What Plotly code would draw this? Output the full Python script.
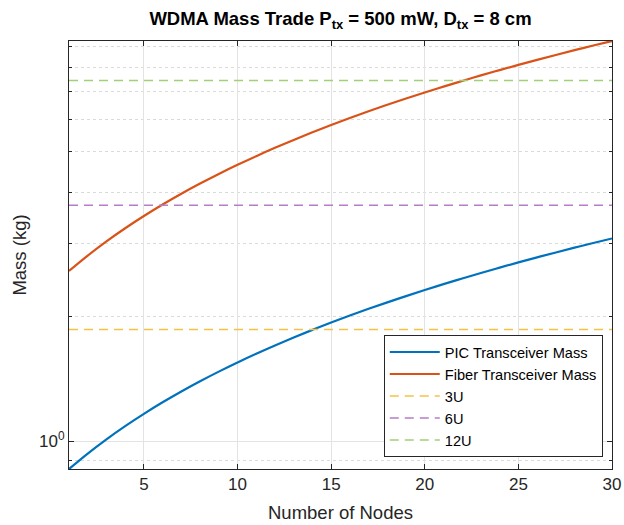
import plotly.graph_objects as go

# ---- data ----
nodes = list(range(1, 31))
pic_mass = [0.858, 0.935, 1.012, 1.089, 1.166, 1.243, 1.320, 1.397, 1.474, 1.551,
            1.628, 1.705, 1.782, 1.859, 1.936, 2.013, 2.090, 2.166, 2.243, 2.320,
            2.397, 2.474, 2.551, 2.628, 2.705, 2.782, 2.859, 2.936, 3.013, 3.090]
fiber_mass = [2.580, 2.810, 3.041, 3.271, 3.501, 3.732, 3.962, 4.192, 4.423, 4.653,
              4.883, 5.114, 5.344, 5.574, 5.805, 6.035, 6.265, 6.496, 6.726, 6.957,
              7.187, 7.417, 7.648, 7.878, 8.108, 8.339, 8.569, 8.799, 9.030, 9.260]
limit_names = ["3U", "6U", "12U"]
limit_values = [1.862, 3.715, 7.43]
x_ticks = [5, 10, 15, 20, 25, 30]
y_major = [1]
y_major_text = ["10<sup>0</sup>"]
y_minor = [0.9, 2, 3, 4, 5, 6, 7, 8, 9]

FONT = "Liberation Sans, Arial, Helvetica, sans-serif"
AX = "#262626"

fig = go.Figure()
fig.add_trace(go.Scatter(x=nodes, y=pic_mass, mode="lines", name="PIC Transceiver Mass",
                         line=dict(color="#0072BD", width=2.2, shape="spline", smoothing=1)))
fig.add_trace(go.Scatter(x=nodes, y=fiber_mass, mode="lines", name="Fiber Transceiver Mass",
                         line=dict(color="#D95319", width=2.2, shape="spline", smoothing=1)))
limit_colors = ["#F3C24A", "#B57DC8", "#A3CF79"]
for name, val, col in zip(limit_names, limit_values, limit_colors):
    fig.add_trace(go.Scatter(x=[nodes[0], nodes[-1]], y=[val, val], mode="lines", name=name,
                             line=dict(color=col, width=1.5, dash="9px,6px")))

fig.update_layout(
    width=624, height=525,
    margin=dict(l=69, r=12, t=41, b=56, autoexpand=False),
    paper_bgcolor="white", plot_bgcolor="white",
    font=dict(family=FONT, color=AX, size=17),
    title=dict(text="<b>WDMA Mass Trade P<sub>tx</sub> = 500 mW, D<sub>tx</sub> = 8 cm</b>",
               x=(69 + 612) / 2 / 624, xanchor="center", y=1 - 19 / 525, yanchor="middle",
               font=dict(family=FONT, size=18.5, color="black")),
    showlegend=True,
    legend=dict(x=0.983, y=0.028, xanchor="right", yanchor="bottom",
                bgcolor="white", bordercolor=AX, borderwidth=1,
                font=dict(family=FONT, size=14.6, color="black"),
                tracegroupgap=0, itemwidth=50),
)
fig.update_xaxes(
    range=[1, 30], tickvals=x_ticks, ticks="inside", ticklen=5, tickcolor=AX,
    showline=True, linecolor=AX, linewidth=1, mirror="ticks", automargin=False,
    showgrid=True, gridcolor="#E3E3E3", gridwidth=1, zeroline=False,
    tickfont=dict(size=17, color=AX),
    title=dict(text="Number of Nodes", font=dict(size=18.5, color=AX), standoff=12),
)
fig.update_yaxes(
    type="log", range=[-0.0665, 0.9666],
    tickvals=y_major, ticktext=y_major_text, ticks="inside", ticklen=5, tickcolor=AX,
    showline=True, linecolor=AX, linewidth=1, mirror="ticks", automargin=False,
    showgrid=True, gridcolor="#E3E3E3", gridwidth=1, zeroline=False,
    tickfont=dict(size=17, color=AX),
    minor=dict(tickvals=y_minor, ticks="inside", ticklen=3, tickcolor=AX,
               showgrid=True, gridcolor="#DADADA", griddash="dot", gridwidth=1),
    title=dict(text="Mass (kg)", font=dict(size=18.5, color=AX), standoff=7),
)

fig.write_html("out.html")
